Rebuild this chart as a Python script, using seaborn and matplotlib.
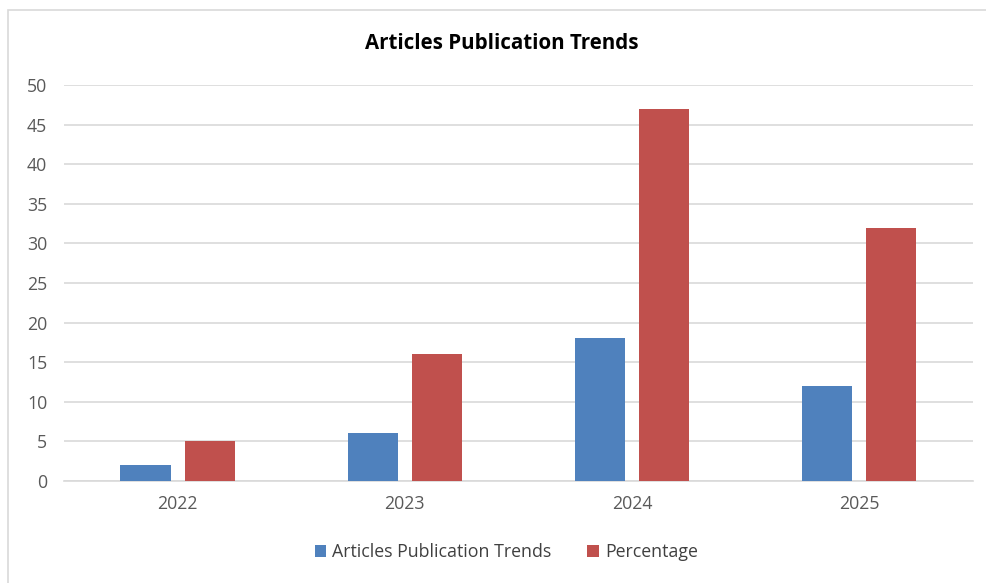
import pandas as pd
import matplotlib.pyplot as plt
import seaborn as sns
from matplotlib.patches import Rectangle

years = ['2022', '2023', '2024', '2025']
articles = [2, 6, 18, 12]
percentage = [5, 16, 47, 32]

data = pd.DataFrame({
    'Year': years * 2,
    'Value': articles + percentage,
    'Series': ['Articles Publication Trends'] * 4 + ['Percentage'] * 4,
})

sns.set_style('white')
plt.rcParams['font.family'] = ['Open Sans', 'DejaVu Sans']

fig = plt.figure(figsize=(9.87, 5.83), dpi=100)
ax = fig.add_axes([0.0648, 0.175, 0.921, 0.679])

sns.barplot(data=data, x='Year', y='Value', hue='Series',
            palette=['#4f81bd', '#c0504d'], saturation=1, width=0.565, gap=0.22,
            linewidth=0, ax=ax, zorder=3)

ax.set_ylim(0, 50)
ax.set_yticks(range(0, 51, 5))
ax.yaxis.grid(True, color='#d9d9d9', linewidth=1.2, zorder=0)
ax.set_axisbelow(True)
for s in ['top', 'right', 'left']:
    ax.spines[s].set_visible(False)
ax.spines['bottom'].set_color('#d9d9d9')
ax.spines['bottom'].set_linewidth(1.2)
ax.tick_params(axis='both', length=0, labelsize=12.8, colors='#595959', pad=10)
ax.tick_params(axis='y', pad=12)
ax.set_xlabel('')
ax.set_ylabel('')

fig.text(0.508, 0.926, 'Articles Publication Trends', ha='center', va='center',
         fontsize=14.8, fontweight='bold', color='black')

handles, labels = ax.get_legend_handles_labels()
ax.legend_.remove()
fig.legend(handles, labels, loc='center', bbox_to_anchor=(0.513, 0.053), ncol=2,
           frameon=False, fontsize=12.8, handlelength=0.65, handleheight=0.65,
           handletextpad=0.35, columnspacing=2.0, labelcolor='#404040')

fig.patches.append(Rectangle((8 / 987, -0.02), 1.0, 1 - 10 / 583 + 0.02,
                             transform=fig.transFigure, fill=False,
                             edgecolor='#d9d9d9', linewidth=1.2))

fig.savefig('out.png', dpi=100)
